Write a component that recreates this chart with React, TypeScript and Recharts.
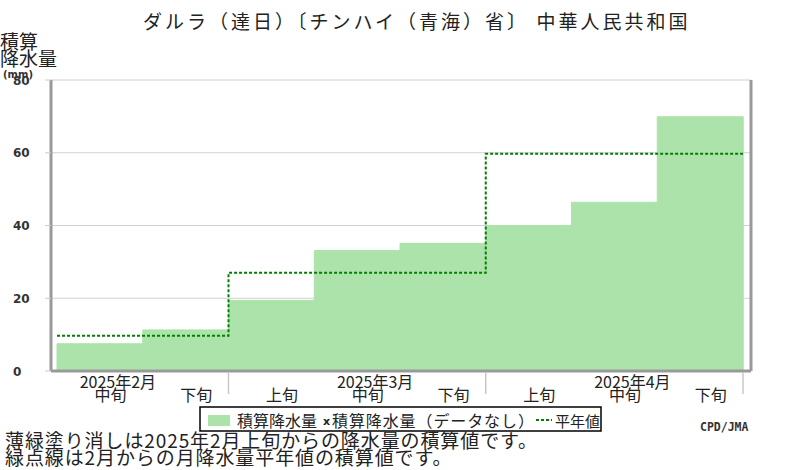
import React from 'react';
import { ComposedChart, Bar, Line, XAxis, YAxis, CartesianGrid } from 'recharts';

// ---- data ----
const decades = ['中旬', '下旬', '上旬', '中旬', '下旬', '上旬', '中旬', '下旬'];
const monthLabels = ['2025年2月', '', '', '2025年3月', '', '', '2025年4月', ''];
const cumulative = [7.5, 11.3, 19.4, 33.1, 35.1, 40.0, 46.4, 69.9];
const normalPos = [0, 2, 5, 8];
const normalCum = [9.7, 27.0, 59.7, 59.7];
const monthBoundaries = [2, 5, 8];
const yTicks = [0, 20, 40, 60, 80];
const title = 'ダルラ（達日）〔チンハイ（青海）省〕 中華人民共和国';
const yTitle = ['積算', '降水量', '(mm)'];
const notes = [
  '薄緑塗り消しは2025年2月上旬からの降水量の積算値です。',
  '緑点線は2月からの月降水量平年値の積算値です。',
];
const legendLabels = ['積算降水量', '積算降水量（データなし）', '平年値'];
const credit = 'CPD/JMA';

const barData = decades.map((d, i) => ({ key: i, decade: d, month: monthLabels[i], cum: cumulative[i] }));
const normalData = normalPos.map((p, i) => ({ pos: p, normal: normalCum[i] }));

const JP = '"Noto Sans CJK JP", sans-serif';
const BAR_FILL = '#ace3aa';
const NORMAL = '#008000';

const XTick = (props: any) => {
  const { x, y, payload } = props;
  const i = payload.index;
  return (
    <g>
      {monthLabels[i] ? (
        <text x={x + 18} y={y + 17} textAnchor="middle" fontFamily={JP} fontSize={16} fill="#222">
          {monthLabels[i]}
        </text>
      ) : null}
      <text x={x + 10.6} y={y + 30} textAnchor="middle" fontFamily={JP} fontSize={16} fill="#222">
        {decades[i]}
      </text>
    </g>
  );
};

const EmptyTick = () => <g />;

const YTick = (props: any) => {
  const { y, payload } = props;
  return (
    <text x={13} y={y + 4.5} textAnchor="start" fontFamily="DejaVu Sans" fontWeight="bold" fontSize={12} fill="#333">
      {payload.value}
    </text>
  );
};

export default function App() {
  return (
    <div style={{ position: 'absolute', left: 0, top: 0, width: 800, height: 470, background: '#fff' }}>
      <ComposedChart
        width={800}
        height={470}
        data={barData}
        margin={{ top: 80, right: 48, bottom: 97, left: 0 }}
        barCategoryGap={0}
        barGap={0}
      >
        <CartesianGrid vertical={false} stroke="#d0d0d0" />
        <XAxis
          dataKey="key"
          type="category"
          height={1}
          padding={{ left: 6, right: 8 }}
          axisLine={{ stroke: '#999', strokeWidth: 3 }}
          tickLine={false}
          tickSize={0}
          tickMargin={0}
          interval={0}
          tick={<XTick />}
        />
        <XAxis
          xAxisId="n"
          dataKey="pos"
          type="number"
          domain={[0, 8]}
          ticks={monthBoundaries}
          interval={0}
          height={1}
          padding={{ left: 6, right: 8 }}
          axisLine={false}
          tickLine={{ stroke: '#c8c8c8', strokeWidth: 1.5 }}
          tickSize={22}
          tick={<EmptyTick />}
          allowDataOverflow
        />
        <YAxis
          domain={[0, 80]}
          ticks={yTicks}
          width={51}
          axisLine={{ stroke: '#999', strokeWidth: 3 }}
          tickLine={{ stroke: '#ccc' }}
          tickSize={6}
          tick={<YTick />}
          interval={0}
        />
        <YAxis
          yAxisId="r"
          orientation="right"
          domain={[0, 80]}
          width={1}
          tick={false}
          tickLine={false}
          axisLine={{ stroke: '#999', strokeWidth: 3 }}
        />
        <Bar dataKey="cum" fill={BAR_FILL} stroke={BAR_FILL} strokeWidth={1} isAnimationActive={false} />
        <Line
          xAxisId="n"
          data={normalData}
          dataKey="normal"
          type="stepAfter"
          stroke={NORMAL}
          strokeWidth={2}
          strokeDasharray="3 2"
          dot={false}
          activeDot={false}
          isAnimationActive={false}
        />
      </ComposedChart>
      <svg
        width={800}
        height={470}
        style={{ position: 'absolute', left: 0, top: 0, pointerEvents: 'none' }}
      >
        <text x={143} y={29} fontFamily={JP} fontSize={19} letterSpacing={3} fill="#222">
          {title}
        </text>
        <text x={0} y={49} fontFamily={JP} fontSize={19} fill="#222">{yTitle[0]}</text>
        <text x={0} y={66} fontFamily={JP} fontSize={19} fill="#222">{yTitle[1]}</text>
        <text x={3} y={78} fontFamily="DejaVu Sans" fontWeight="bold" fontSize={10} fill="#333">{yTitle[2]}</text>

        <rect x={200} y={407} width={401} height={24} fill="#fff" stroke="#000" strokeWidth={1.5} />
        <rect x={208} y={415} width={22} height={11} fill={BAR_FILL} />
        <text x={237} y={427} fontFamily={JP} fontSize={16} fill="#222">{legendLabels[0]}</text>
        <text x={323} y={425} fontFamily="DejaVu Sans" fontWeight="bold" fontSize={11} fill="#222">x</text>
        <text x={332} y={427} fontFamily={JP} fontSize={16} letterSpacing={0.9} fill="#222">{legendLabels[1]}</text>
        <line x1={536} y1={420} x2={552} y2={420} stroke={NORMAL} strokeWidth={2} strokeDasharray="3 2" />
        <text x={555} y={427} fontFamily={JP} fontSize={15} fill="#222">{legendLabels[2]}</text>

        <text x={700} y={431} fontFamily="DejaVu Sans Mono" fontWeight="bold" fontSize={11.5} fill="#333">{credit}</text>

        <text x={5} y={447.5} fontFamily={JP} fontSize={19} letterSpacing={0.9} fill="#222">{notes[0]}</text>
        <text x={5} y={465} fontFamily={JP} fontSize={19} letterSpacing={0.9} fill="#222">{notes[1]}</text>
      </svg>
    </div>
  );
}
